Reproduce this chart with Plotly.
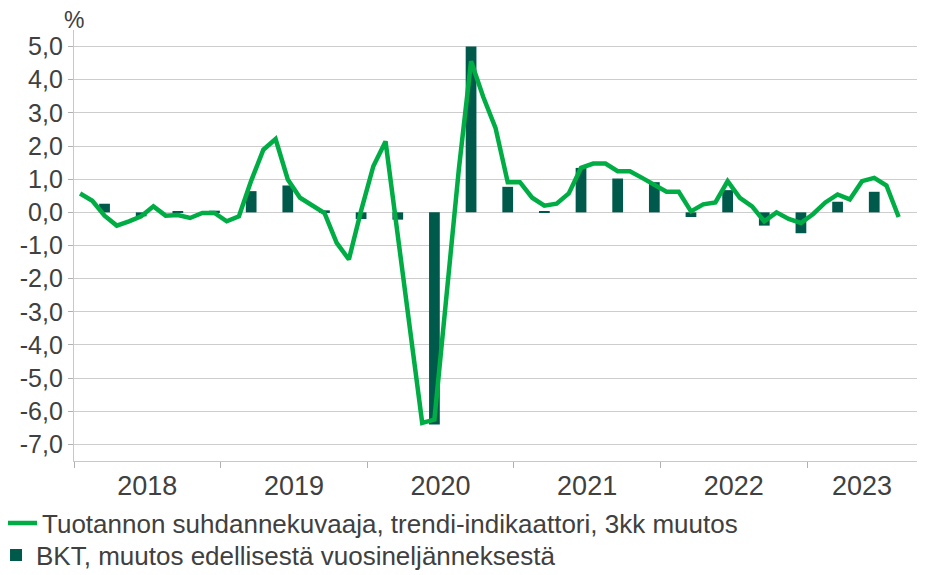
import plotly.graph_objects as go

# Monthly categories Jan 2018 .. Sep 2023
months = [f"{y}-{m:02d}" for y in range(2018, 2024) for m in range(1, 13)][:69]

# Tuotannon suhdannekuvaaja, trendi-indikaattori, 3kk muutos (Jan 2018 .. Aug 2023)
trend = [
    0.57, 0.35, -0.10, -0.40, -0.27, -0.12, 0.18, -0.10, -0.08, -0.17, -0.02, -0.02,
    -0.27, -0.12, 0.95, 1.89, 2.21, 0.99, 0.44, 0.20, -0.02, -0.92, -1.42, 0.05,
    1.39, 2.14, -0.70, -3.48, -6.35, -6.25, -2.30, 1.30, 4.56, 3.48, 2.55, 0.91,
    0.91, 0.44, 0.20, 0.26, 0.57, 1.34, 1.47, 1.47, 1.24, 1.24, 1.04, 0.84,
    0.62, 0.62, 0.03, 0.24, 0.30, 0.94, 0.44, 0.18, -0.27, 0.00, -0.20, -0.32,
    -0.05, 0.30, 0.54, 0.39, 0.94, 1.04, 0.81, -0.14,
]

# BKT, muutos edellisestä vuosineljänneksestä (quarter-end months)
quarters = ["2018-03", "2018-06", "2018-09", "2018-12",
            "2019-03", "2019-06", "2019-09", "2019-12",
            "2020-03", "2020-06", "2020-09", "2020-12",
            "2021-03", "2021-06", "2021-09", "2021-12",
            "2022-03", "2022-06", "2022-09", "2022-12",
            "2023-03", "2023-06"]
bkt = [0.26, -0.12, 0.02, 0.05,
       0.64, 0.81, 0.06, -0.20,
       -0.22, -6.40, 5.00, 0.77,
       0.02, 1.34, 1.02, 0.91,
       -0.14, 0.67, -0.40, -0.63,
       0.32, 0.62]

years = ["2018", "2019", "2020", "2021", "2022", "2023"]
year_pos = [5.5, 17.5, 29.5, 41.5, 53.5, 64.0]

y_ticks = [5, 4, 3, 2, 1, 0, -1, -2, -3, -4, -5, -6, -7]
y_text = [f"{v:.1f}".replace(".", ",") for v in y_ticks]

x_line = list(range(len(trend)))
x_bar = [months.index(q) for q in quarters]

FONT = "Liberation Sans, Arial, sans-serif"
TXT = "#404040"

fig = go.Figure()
fig.add_trace(go.Bar(
    x=x_bar, y=bkt, width=0.88,
    marker=dict(color="#005A4B", line=dict(width=0)),
    name="BKT, muutos edellisestä vuosineljänneksestä",
    legend="legend2",
))
fig.add_trace(go.Scatter(
    x=x_line, y=trend, mode="lines",
    line=dict(color="#00AD45", width=4.5),
    name="Tuotannon suhdannekuvaaja, trendi-indikaattori, 3kk muutos",
    legend="legend",
))

leg_common = dict(
    xref="paper", yref="paper", xanchor="left", yanchor="middle",
    orientation="v", font=dict(size=26, color=TXT, family=FONT),
    bgcolor="rgba(0,0,0,0)", borderwidth=0,
)

fig.update_layout(
    width=922, height=567,
    margin=dict(l=66, r=13, t=22, b=114, autoexpand=False),
    paper_bgcolor="white", plot_bgcolor="white",
    font=dict(family=FONT, size=25, color=TXT),
    showlegend=True,
    legend=dict(x=-0.0854, y=-0.144, **leg_common),
    legend2=dict(x=-0.0925, y=-0.2183, **leg_common),
    xaxis=dict(
        range=[-0.5, 68.5],
        tickmode="array", tickvals=year_pos, ticktext=years,
        ticks="", showgrid=False, zeroline=False,
        showline=True, linecolor="#c8c8c8", linewidth=1.3,
        tickfont=dict(size=27, color=TXT),
        ticklabelstandoff=0,
        minor=dict(tick0=-0.5, dtick=12, ticks="outside", ticklen=6,
                   tickcolor="#b0b0b0", tickwidth=1.3, showgrid=False),
    ),
    yaxis=dict(
        range=[-7.5, 5.5],
        tickmode="array", tickvals=y_ticks, ticktext=y_text,
        ticks="outside", ticklen=5, tickcolor="#b0b0b0", tickwidth=1.3,
        showgrid=True, gridcolor="#cdcdcd", gridwidth=1.3,
        zeroline=False,
        showline=True, linecolor="#c8c8c8", linewidth=1.3,
        tickfont=dict(size=25, color=TXT),
    ),
    annotations=[dict(
        text="%", xref="paper", yref="paper", x=0.0, y=1 + (22.4 - 12) / 430.6,
        xanchor="center", yanchor="middle", showarrow=False,
        font=dict(size=23, color=TXT),
    )],
)

fig.write_html("out.html")
